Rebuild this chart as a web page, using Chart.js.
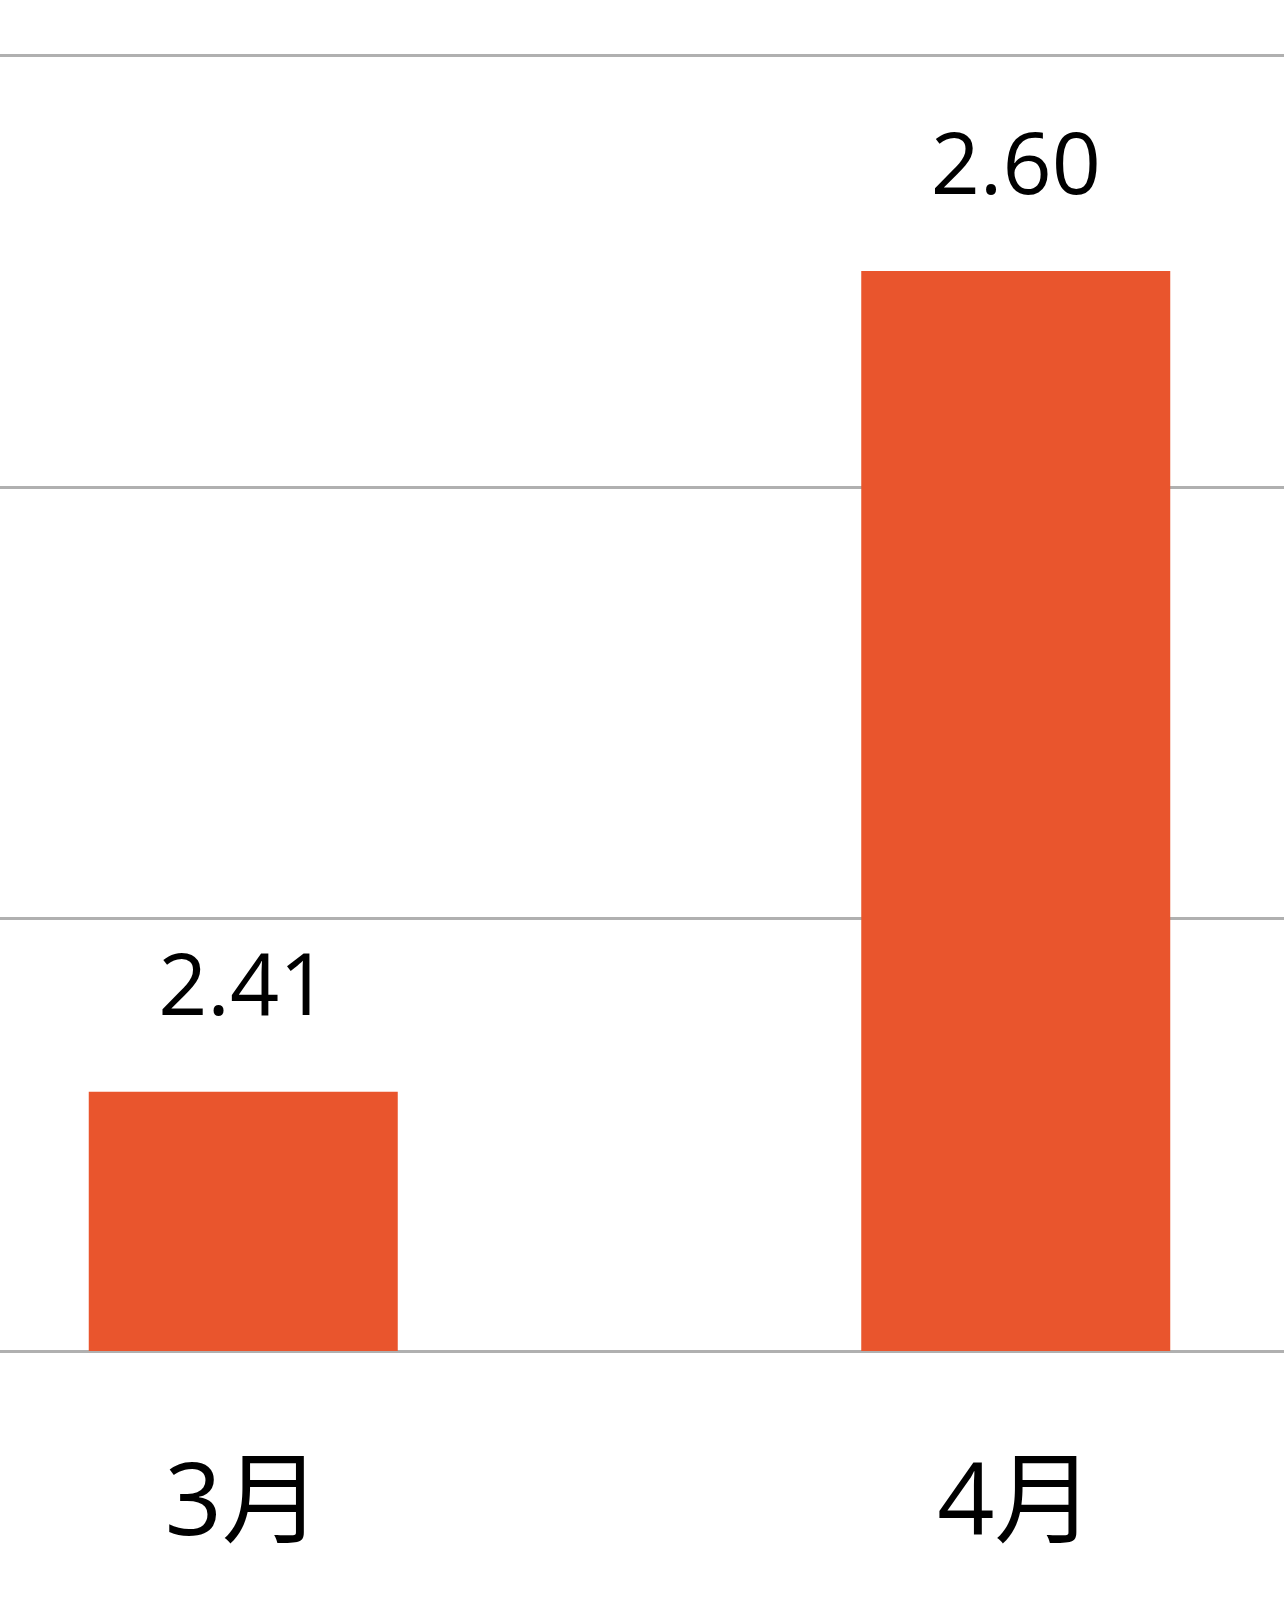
<!DOCTYPE html>
<html>
<head>
<meta charset="utf-8">
<script src="https://cdn.jsdelivr.net/npm/chart.js@4.4.1/dist/chart.umd.min.js"></script>
<style>
  html, body { margin: 0; padding: 0; background: #fff; }
  #wrap { position: relative; width: 1284px; height: 1609px; overflow: hidden; }
  #barChart { position: absolute; left: -143px; top: 0; }
</style>
</head>
<body>
<div id="wrap">
  <canvas id="barChart" width="1545" height="1609"></canvas>
</div>
<script>
const months = ['3月', '4月'];
const values = [2.41, 2.60];
const gridTicks = [2.35, 2.45, 2.55, 2.65];

// numbers above the bars
const valueLabels = {
  id: 'valueLabels',
  afterDatasetsDraw(chart) {
    const ctx = chart.ctx;
    const meta = chart.getDatasetMeta(0);
    ctx.save();
    ctx.font = '86px "Open Sans", "Noto Sans CJK SC", sans-serif';
    ctx.fillStyle = '#000';
    ctx.textAlign = 'center';
    ctx.textBaseline = 'alphabetic';
    meta.data.forEach((bar, i) => {
      ctx.fillText(values[i].toFixed(2), bar.x, bar.y - 77);
    });
    ctx.restore();
  }
};

const ctx = document.getElementById('barChart').getContext('2d');
const chart = new Chart(ctx, {
  type: 'bar',
  data: {
    labels: months,
    datasets: [{
      data: values,
      backgroundColor: '#E9552D',
      categoryPercentage: 0.8,
      barPercentage: 0.5
    }]
  },
  options: {
    responsive: false,
    animation: false,
    layout: { padding: { top: 55, bottom: 0, left: 0, right: 0 } },
    plugins: {
      legend: { display: false },
      tooltip: { enabled: false }
    },
    scales: {
      x: {
        afterFit: (scale) => { scale.height = 258; },
        grid: { display: false, drawTicks: false },
        border: { display: false },
        ticks: {
          color: '#000',
          padding: 96,
          font: { family: '"Open Sans", "Noto Sans CJK SC", sans-serif', size: 100 }
        }
      },
      y: {
        min: 2.35,
        max: 2.65,
        afterBuildTicks: (scale) => {
          scale.ticks = gridTicks.map(v => ({ value: v }));
        },
        afterFit: (scale) => { scale.width = 0; },
        grid: { color: '#b0b0b0', lineWidth: 3, drawTicks: false },
        border: { display: false },
        ticks: { display: false }
      }
    }
  },
  plugins: [valueLabels]
});
</script>
</body>
</html>
